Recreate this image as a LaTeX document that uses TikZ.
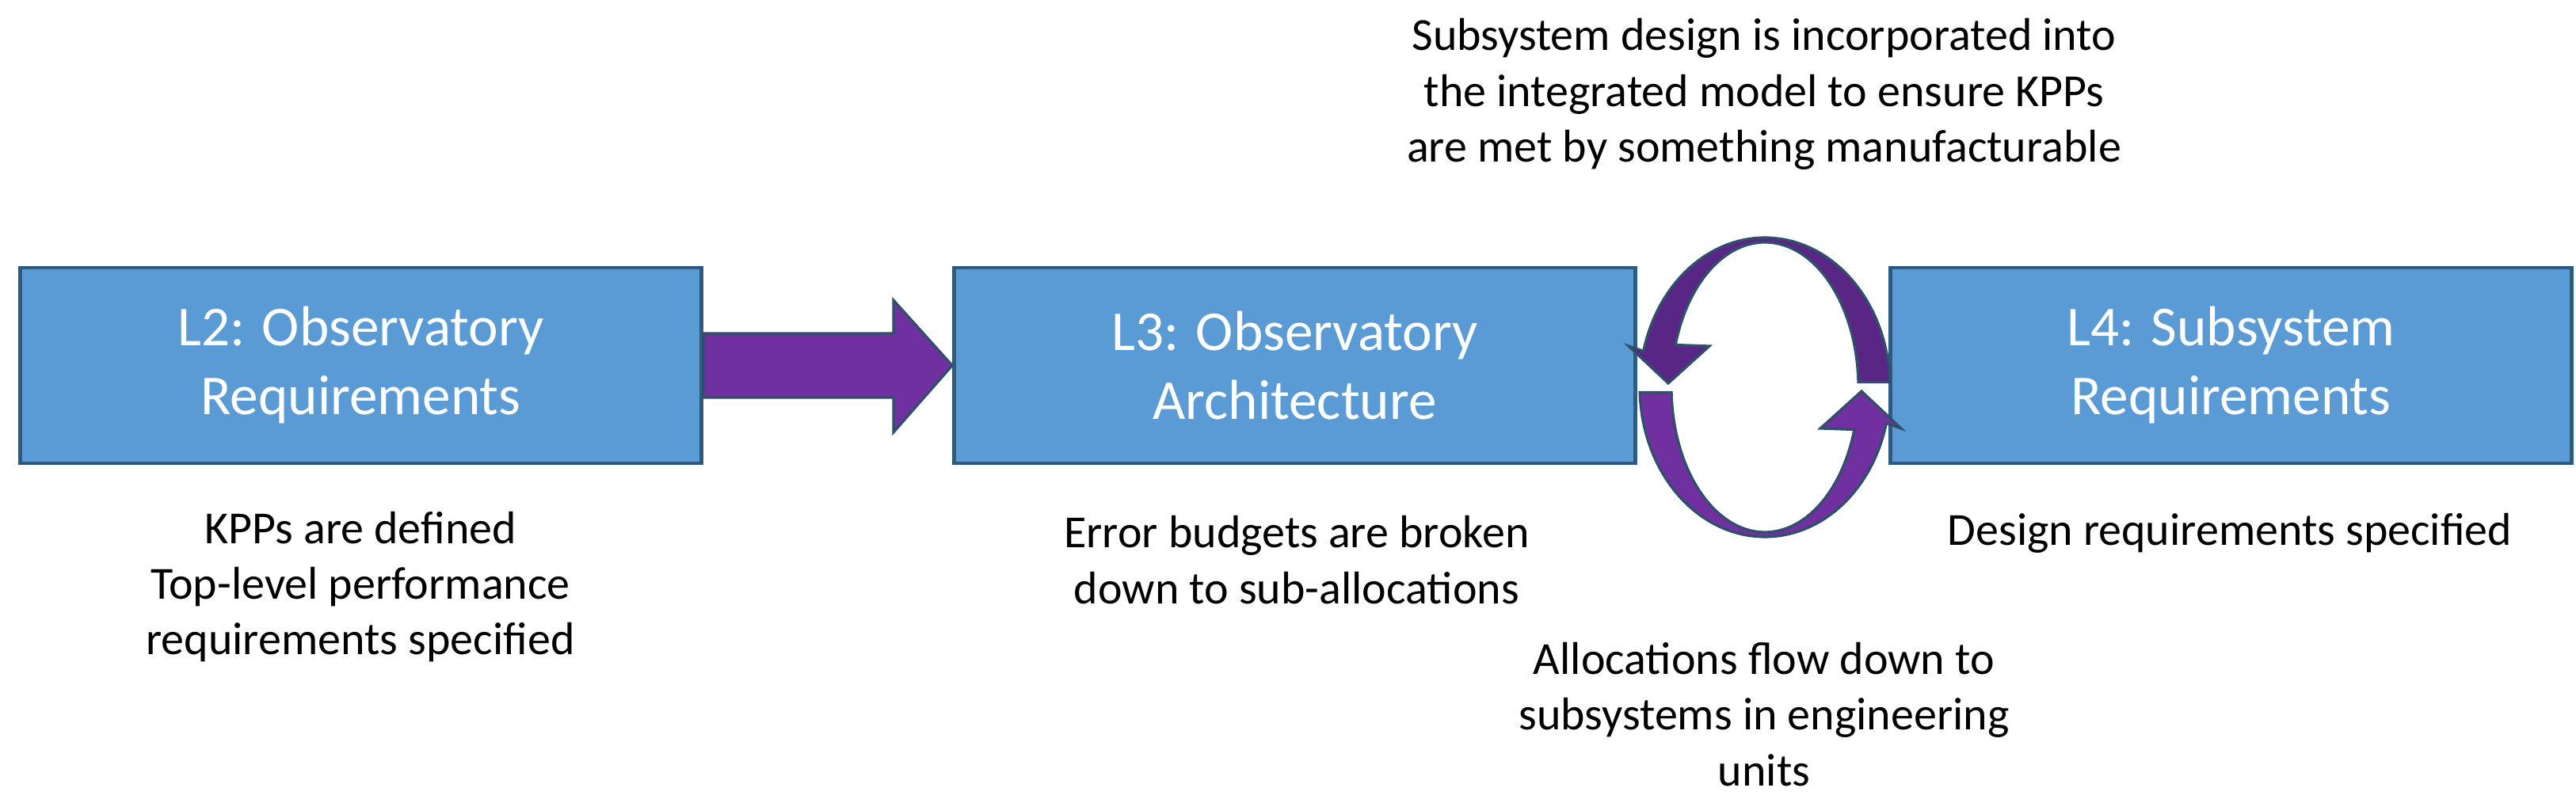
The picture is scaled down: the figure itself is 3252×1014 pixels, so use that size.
\documentclass[tikz,border=0pt]{standalone}
\usepackage{fontspec}
\setmainfont{Carlito}
\usetikzlibrary{calc}
\definecolor{boxfill}{HTML}{5B9BD5}
\definecolor{boxline}{HTML}{2E5A7E}
\definecolor{purp}{HTML}{7030A0}
\definecolor{purpd}{HTML}{5A2686}
\definecolor{aline}{HTML}{2F4F6A}
\begin{document}
\begin{tikzpicture}[x=0.25pt,y=-0.25pt,
  box/.style={draw=boxline,line width=1.2pt,fill=boxfill,minimum width=215pt,minimum height=61.75pt,
    text=white,align=center,font=\fontsize{17.8}{21.75}\selectfont,inner sep=0pt},
  lbl/.style={align=center,font=\fontsize{14.5}{17.6}\selectfont,inner sep=0pt},
  parrow/.style={fill=purp,draw=aline,line width=0.8pt,line join=miter}]
\useasboundingbox (0,0) rectangle (3252,1014);
\node[box] (L2) at (455.5,461.5) {L2: Observatory\\Requirements};
\node[box] (L3) at (1634.5,461.5) {L3: Observatory\\Architecture};
\node[box] (L4) at (2816.5,461.5) {L4: Subsystem\\Requirements};
% straight arrow
\draw[parrow] ($(L2.east)+(0,-40.5)$) -- ++(240,0) -- ++(0,-42) -- (L3.west) -- ($(L2.east)+(240,84.5)$) -- ++(0,-44) -- ($(L2.east)+(0,40.5)$) -- cycle;
% circular arrows
\coordinate (C) at (2228,489);
\draw[parrow,fill=purpd] plot[domain=2:166,samples=60] ({2228+158*cos(\x)},{489-189*sin(\x)})
  -- (2056,437) -- (2106,484) -- (2158,437)
  -- plot[domain=163:2,samples=60] ({2228+118*cos(\x)},{489-183*sin(\x)}) -- cycle;
\draw[parrow] plot[domain=182:346,samples=60] ({2228+158*cos(\x)},{489-189*sin(\x)})
  -- (2400,541) -- (2350,494) -- (2298,541)
  -- plot[domain=343:182,samples=60] ({2228+118*cos(\x)},{489-183*sin(\x)}) -- cycle;
\node[lbl] (t1) at (2227,119) {Subsystem design is incorporated into\\the integrated model to ensure KPPs\\are met by something manufacturable};
\node[lbl] (t2) at (455,741) {KPPs are defined\\Top-level performance\\requirements specified};
\node[lbl] (t3) at (1637,707) {Error budgets are broken\\down to sub-allocations};
\node[lbl] (t4) at (2815,673) {Design requirements specified};
\node[lbl] (t5) at (2227,902) {Allocations flow down to\\subsystems in engineering\\units};
\end{tikzpicture}
\end{document}
